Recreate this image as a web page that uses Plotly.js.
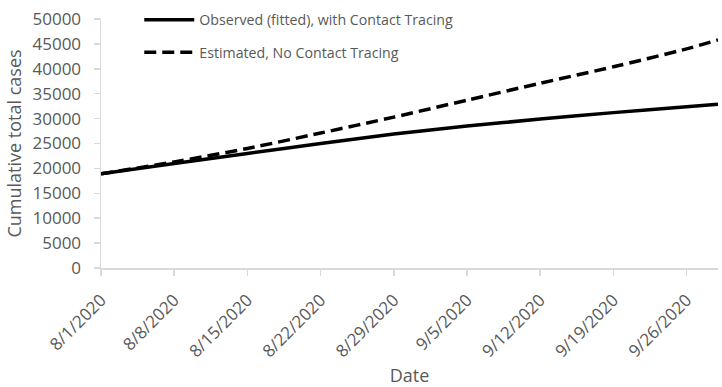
<!DOCTYPE html>
<html>
<head>
<meta charset="utf-8">
<script src="https://cdn.plot.ly/plotly-3.0.1.min.js"></script>
<style>
  html, body { margin: 0; padding: 0; background: #ffffff; }
  #chart { width: 722px; height: 387px; }
</style>
</head>
<body>
<div id="chart"></div>
<script>
// Data
const dates = ['2020-08-01', '2020-08-08', '2020-08-15', '2020-08-22', '2020-08-29',
               '2020-09-05', '2020-09-12', '2020-09-19', '2020-09-26', '2020-09-29'];
const observedWithTracing = [18900, 21000, 23000, 25000, 26900, 28500, 29900, 31200, 32400, 32900];
const estimatedNoTracing  = [18900, 21300, 24000, 27100, 30300, 33700, 37100, 40400, 44000, 45800];
const tickDates  = ['2020-08-01', '2020-08-08', '2020-08-15', '2020-08-22', '2020-08-29',
                    '2020-09-05', '2020-09-12', '2020-09-19', '2020-09-26'];
const tickLabels = ['8/1/2020', '8/8/2020', '8/15/2020', '8/22/2020', '8/29/2020',
                    '9/5/2020', '9/12/2020', '9/19/2020', '9/26/2020'];
const seriesNames = ['Observed (fitted), with Contact Tracing', 'Estimated, No Contact Tracing'];

const textColor = '#595959';
const axisColor = '#d9d9d9';
const fontFamily = '"Open Sans", "Noto Sans", sans-serif';

const traces = [
  {
    x: dates, y: observedWithTracing, name: seriesNames[0], legendgroup: 'a',
    type: 'scatter', mode: 'lines',
    line: { color: '#000000', width: 3.5, shape: 'spline', smoothing: 0.6 }
  },
  {
    x: dates, y: estimatedNoTracing, name: seriesNames[1], legendgroup: 'b',
    type: 'scatter', mode: 'lines',
    line: { color: '#000000', width: 3.5, dash: '12px,6px', shape: 'spline', smoothing: 0.6 }
  }
];

const layout = {
  width: 722, height: 387,
  margin: { l: 101, r: 4, t: 14, b: 119 },
  paper_bgcolor: '#ffffff', plot_bgcolor: '#ffffff',
  font: { family: fontFamily, color: textColor, size: 17 },
  showlegend: true,
  legend: {
    x: 0.062, y: 1.06, xanchor: 'left', yanchor: 'top',
    bgcolor: 'rgba(0,0,0,0)', borderwidth: 0,
    font: { family: fontFamily, size: 14.2, color: textColor },
    tracegroupgap: 11, itemwidth: 50
  },
  xaxis: {
    type: 'date',
    range: ['2020-08-01', '2020-09-29'],
    tickmode: 'array', tickvals: tickDates, ticktext: tickLabels,
    tickangle: -45, ticklabelstandoff: 8,
    showgrid: false, zeroline: false,
    showline: true, linecolor: axisColor, linewidth: 1.5,
    ticks: 'outside', ticklen: 6, tickcolor: axisColor, tickwidth: 1.5,
    tickfont: { size: 17, color: textColor, family: fontFamily },
    title: { text: 'Date', font: { size: 18, color: textColor, family: fontFamily }, standoff: 8 }
  },
  yaxis: {
    range: [0, 50000],
    tickmode: 'linear', tick0: 0, dtick: 5000, tickformat: 'd',
    ticklabelstandoff: 9,
    showgrid: false, zeroline: false,
    showline: true, linecolor: axisColor, linewidth: 1.5,
    ticks: 'outside', ticklen: 6, tickcolor: axisColor, tickwidth: 1.5,
    tickfont: { size: 17, color: textColor, family: fontFamily },
    title: { text: 'Cumulative total cases', font: { size: 18, color: textColor, family: fontFamily }, standoff: 6 }
  }
};

Plotly.newPlot('chart', traces, layout, { displayModeBar: false, staticPlot: true });
</script>
</body>
</html>
